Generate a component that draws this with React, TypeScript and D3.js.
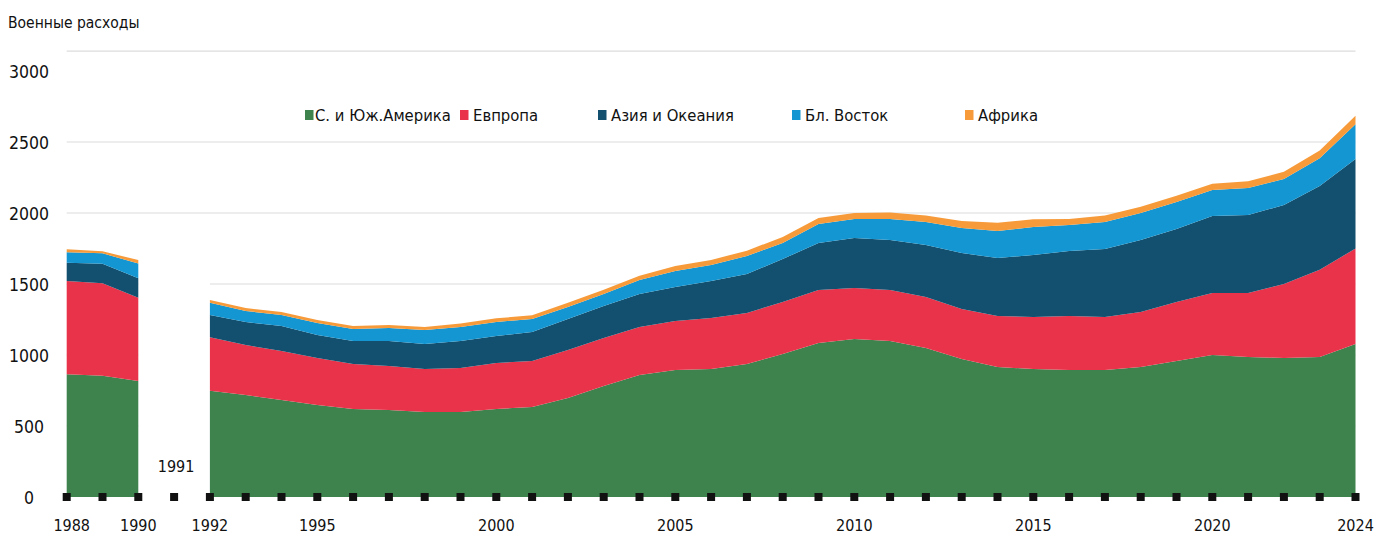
import React, { useEffect, useRef } from "react";
import * as d3 from "d3";

// Военные расходы по регионам, млрд долл.
const years = [1988, 1989, 1990, 1991, 1992, 1993, 1994, 1995, 1996, 1997, 1998, 1999, 2000, 2001, 2002, 2003, 2004, 2005, 2006, 2007, 2008, 2009, 2010, 2011, 2012, 2013, 2014, 2015, 2016, 2017, 2018, 2019, 2020, 2021, 2022, 2023, 2024];
const america = [864, 854, 817, null, 749, 718, 683, 648, 620, 613, 599, 599, 620, 634, 697, 782, 859, 894, 901, 937, 1007, 1085, 1113, 1099, 1049, 972, 915, 901, 894, 894, 915, 958, 1000, 986, 979, 986, 1077];
const europe = [657, 651, 587, null, 376, 352, 345, 331, 317, 310, 302, 309, 324, 324, 338, 338, 338, 345, 360, 359, 366, 373, 359, 359, 359, 352, 360, 367, 381, 374, 388, 415, 437, 451, 521, 614, 673];
const asia = [129, 138, 136, null, 157, 162, 176, 162, 162, 176, 176, 191, 190, 204, 219, 225, 233, 240, 260, 274, 303, 331, 352, 352, 367, 394, 408, 436, 457, 478, 507, 514, 542, 549, 556, 590, 630];
const middleEast = [73, 73, 105, null, 86, 78, 78, 84, 84, 91, 99, 98, 98, 92, 84, 85, 98, 113, 113, 127, 113, 134, 134, 148, 162, 176, 190, 197, 183, 191, 190, 190, 183, 190, 184, 195, 245];
const africa = [21, 14, 24, null, 19, 21, 21, 21, 21, 21, 22, 24, 26, 26, 30, 30, 30, 35, 35, 38, 42, 42, 42, 46, 46, 50, 58, 55, 43, 45, 44, 44, 44, 48, 50, 55, 60];

const seriesNames = ["С. и Юж.Америка", "Евпропа", "Азия и Океания", "Бл. Восток", "Африка"];
const seriesKeys = ["america", "europe", "asia", "middleEast", "africa"];
const colors = ["#3e834e", "#e8334a", "#134f6e", "#1396d2", "#f79b3a"];

const yTicks = [0, 500, 1000, 1500, 2000, 2500, 3000];
const gridValues = [500, 1000, 1500, 2000, 2500, 3140];
const labelYears = [1988, 1990, 1992, 1995, 2000, 2005, 2010, 2015, 2020, 2024];

const W = 1387;
const H = 535;
const FONT = "'Liberation Sans Narrow', 'DejaVu Sans Condensed', sans-serif";

export default function App() {
  const svgRef = useRef<SVGSVGElement>(null);

  useEffect(() => {
    document.body.style.margin = "0";
    const svg = d3.select(svgRef.current);
    svg.selectAll("*").remove();

    const rows = years.map((year, i) => ({
      year,
      america: america[i],
      europe: europe[i],
      asia: asia[i],
      middleEast: middleEast[i],
      africa: africa[i],
    }));

    const x = d3.scaleLinear().domain([1988, 2024]).range([66.7, 1355.5]);
    const y = d3.scaleLinear().domain([0, 3000]).range([497, 71]);

    const stack = d3
      .stack<any>()
      .keys(seriesKeys)
      .value((d, key) => d[key] ?? 0);
    const layers = stack(rows);

    // grid
    svg
      .append("g")
      .selectAll("line")
      .data(gridValues)
      .join("line")
      .attr("x1", x(1988))
      .attr("x2", x(2024))
      .attr("y1", (d) => y(d))
      .attr("y2", (d) => y(d))
      .attr("stroke", "#dcdcdc")
      .attr("stroke-width", 1.2);

    // no grid inside the 1991 gap
    svg
      .append("rect")
      .attr("x", x(1990))
      .attr("width", x(1992) - x(1990))
      .attr("y", y(1750))
      .attr("height", y(0) - y(1750))
      .attr("fill", "white");

    const area = d3
      .area<any>()
      .defined((d) => d.data.america != null)
      .x((d) => x(d.data.year))
      .y0((d) => y(d[0]))
      .y1((d) => y(d[1]));

    svg
      .append("g")
      .selectAll("path")
      .data(layers)
      .join("path")
      .attr("d", area)
      .attr("fill", (d, i) => colors[i]);

    // tick squares
    svg
      .append("g")
      .selectAll("rect")
      .data(years)
      .join("rect")
      .attr("x", (d) => x(d) - 4)
      .attr("y", y(0) - 4)
      .attr("width", 8)
      .attr("height", 8)
      .attr("fill", "#111");

    // x labels
    svg
      .append("g")
      .selectAll("text")
      .data(labelYears)
      .join("text")
      .attr("x", (d) => x(d) + (d === 1988 ? 5 : 0))
      .attr("y", 531)
      .attr("text-anchor", "middle")
      .style("font-family", FONT)
      .style("font-size", "16px")
      .attr("fill", "#111")
      .text((d) => d);

    svg
      .append("text")
      .attr("x", x(1991) + 2)
      .attr("y", 472)
      .attr("text-anchor", "middle")
      .style("font-family", FONT)
      .style("font-size", "16px")
      .attr("fill", "#111")
      .text("1991");

    // y labels
    svg
      .append("g")
      .selectAll("text")
      .data(yTicks)
      .join("text")
      .attr("x", 29)
      .attr("y", (d) => y(d) + 7)
      .attr("text-anchor", "middle")
      .style("font-family", FONT)
      .style("font-size", "17.5px")
      .attr("fill", "#111")
      .text((d) => d);

    // title
    svg
      .append("text")
      .attr("x", 8)
      .attr("y", 28)
      .style("font-family", FONT)
      .style("font-size", "15.5px")
      .attr("fill", "#111")
      .text("Военные расходы");

    // legend
    const legendX = [305, 460, 598, 792, 965];
    const legend = svg
      .append("g")
      .selectAll("g")
      .data(seriesNames)
      .join("g")
      .attr("transform", (d, i) => `translate(${legendX[i]}, 115)`);
    legend
      .append("rect")
      .attr("x", 0)
      .attr("y", -5)
      .attr("width", 8.5)
      .attr("height", 10)
      .attr("fill", (d, i) => colors[i]);
    legend
      .append("text")
      .attr("x", (d, i) => (i === 0 ? 10 : 13))
      .attr("y", 5.5)
      .style("font-family", FONT)
      .style("font-size", "16.5px")
      .attr("fill", "#111")
      .text((d) => d);
  }, []);

  return <svg ref={svgRef} width={W} height={H} style={{ display: "block" }}></svg>;
}
